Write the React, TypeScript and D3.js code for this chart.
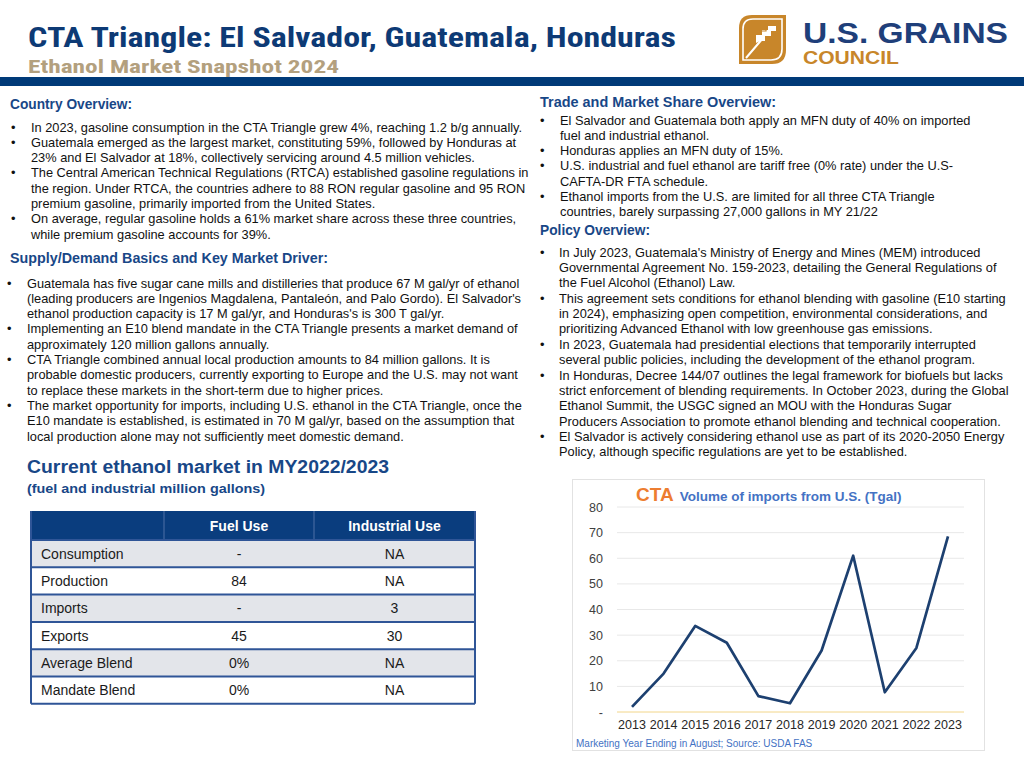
import React from "react";
import * as d3 from "d3";

// ---------- Data ----------
const years = ["2013", "2014", "2015", "2016", "2017", "2018", "2019", "2020", "2021", "2022", "2023"];
const importsTgal = [2, 15, 33.6, 27, 6.2, 3.4, 24, 61, 7.7, 25, 68.5];
const yTicks = [0, 10, 20, 30, 40, 50, 60, 70, 80];

const tableColumns = ["", "Fuel Use", "Industrial Use"];
const tableRowLabels = ["Consumption", "Production", "Imports", "Exports", "Average Blend", "Mandate Blend"];
const fuelUse = ["-", "84", "-", "45", "0%", "0%"];
const industrialUse = ["NA", "NA", "3", "30", "NA", "NA"];

type Line = { t: string; b?: boolean };

const countryOverview: Line[] = [
  { t: "In 2023, gasoline consumption in the CTA Triangle grew 4%, reaching 1.2 b/g annually.", b: true },
  { t: "Guatemala emerged as the largest market, constituting 59%, followed by Honduras at", b: true },
  { t: "23% and El Salvador at 18%, collectively servicing around 4.5 million vehicles." },
  { t: "The Central American Technical Regulations (RTCA) established gasoline regulations in", b: true },
  { t: "the region. Under RTCA, the countries adhere to 88 RON regular gasoline and 95 RON" },
  { t: "premium gasoline, primarily imported from the United States." },
  { t: "On average, regular gasoline holds a 61% market share across these three countries,", b: true },
  { t: "while premium gasoline accounts for 39%." },
];

const supplyDemand: Line[] = [
  { t: "Guatemala has five sugar cane mills and distilleries that produce 67 M gal/yr of ethanol", b: true },
  { t: "(leading producers are Ingenios Magdalena, Pantaleón, and Palo Gordo). El Salvador's" },
  { t: "ethanol production capacity is 17 M gal/yr, and Honduras's is 300 T gal/yr." },
  { t: "Implementing an E10 blend mandate in the CTA Triangle presents a market demand of", b: true },
  { t: "approximately 120 million gallons annually." },
  { t: "CTA Triangle combined annual local production amounts to 84 million gallons. It is", b: true },
  { t: "probable domestic producers, currently exporting to Europe and the U.S. may not want" },
  { t: "to replace these markets in the short-term due to higher prices." },
  { t: "The market opportunity for imports, including U.S. ethanol in the CTA Triangle, once the", b: true },
  { t: "E10 mandate is established, is estimated in 70 M gal/yr, based on the assumption that" },
  { t: "local production alone may not sufficiently meet domestic demand." },
];

const tradeOverview: Line[] = [
  { t: "El Salvador and Guatemala both apply an MFN duty of 40% on imported", b: true },
  { t: "fuel and industrial ethanol." },
  { t: "Honduras applies an MFN duty of 15%.", b: true },
  { t: "U.S. industrial and fuel ethanol are tariff free (0% rate) under the U.S-", b: true },
  { t: "CAFTA-DR FTA schedule." },
  { t: "Ethanol imports from the U.S. are limited for all three CTA Triangle", b: true },
  { t: "countries, barely surpassing 27,000 gallons in MY 21/22" },
];

const policyOverview: Line[] = [
  { t: "In July 2023, Guatemala's Ministry of Energy and Mines (MEM) introduced", b: true },
  { t: "Governmental Agreement No. 159-2023, detailing the General Regulations of" },
  { t: "the Fuel Alcohol (Ethanol) Law." },
  { t: "This agreement sets conditions for ethanol blending with gasoline (E10 starting", b: true },
  { t: "in 2024), emphasizing open competition, environmental considerations, and" },
  { t: "prioritizing Advanced Ethanol with low greenhouse gas emissions." },
  { t: "In 2023, Guatemala had presidential elections that temporarily interrupted", b: true },
  { t: "several public policies, including the development of the ethanol program." },
  { t: "In Honduras, Decree 144/07 outlines the legal framework for biofuels but lacks", b: true },
  { t: "strict enforcement of blending requirements. In October 2023, during the Global" },
  { t: "Ethanol Summit, the USGC signed an MOU with the Honduras Sugar" },
  { t: "Producers Association to promote ethanol blending and technical cooperation." },
  { t: "El Salvador is actively considering ethanol use as part of its 2020-2050 Energy", b: true },
  { t: "Policy, although specific regulations are yet to be established." },
];

// ---------- Styles ----------
const SANS = "'Liberation Sans', Arial, Helvetica, sans-serif";
const NARROW = "'Liberation Sans Narrow', 'Arial Narrow', 'Roboto Condensed', 'Liberation Sans', sans-serif";
const NAVY = "#0d3a75";
const HEAD_BLUE = "#184787";
const TEXT = "#111";
const HEAD_SIZE = 14.1;

function BulletBlock({ lines, y0, dy, bulletX, textX, size = 12.8 }: { lines: Line[]; y0: number; dy: number; bulletX: number; textX: number; size?: number }) {
  return (
    <g fontFamily={SANS} fontSize={size} fill={TEXT}>
      {lines.map((l, i) => (
        <g key={i}>
          {l.b && (
            <text x={bulletX} y={y0 + i * dy + 4.5} fontSize={size}>
              •
            </text>
          )}
          <text x={textX} y={y0 + i * dy + 4.5}>
            {l.t}
          </text>
        </g>
      ))}
    </g>
  );
}

function Logo() {
  return (
    <g>
      <path
        d="M752,15 L786,15 L786,50 Q786,64 772,64 L739,64 L739,28 Q739,15 752,15 Z"
        fill="#c8862a"
      />
      <path
        d="M753,19 L782,19 L782,49 Q782,60 771,60 L743,60 L743,29 Q743,19 753,19 Z"
        fill="none"
        stroke="#fff"
        strokeWidth={1.6}
      />
      <path d="M746,58 Q758,44 763,38" fill="none" stroke="#fff" strokeWidth={2} />
      <path d="M756,43 L756,35 L762,35 L762,30 L768,30 L768,26 L776,26 L776,31 L771,31 L771,36 L765,36 L765,41 L760,41 Z" fill="#fff" />
      <path d="M760,34 L760,31 L766,31 L766,28" fill="none" stroke="#c8862a" strokeWidth={1.2} />
      <text x={803} y={43} fontFamily={SANS} fontWeight={700} fontSize={30} fill="#1f3f7a" textLength={205} lengthAdjust="spacingAndGlyphs">
        U.S. GRAINS
      </text>
      <text x={803} y={64} fontFamily={SANS} fontWeight={700} fontSize={18} fill="#c8862a" textLength={96} lengthAdjust="spacingAndGlyphs">
        COUNCIL
      </text>
    </g>
  );
}

function Table() {
  const x0 = 31;
  const colEdges = [31, 164, 314, 475];
  const headerTop = 511;
  const headerH = 29;
  const rowH = 27.3;
  const rowsTop = headerTop + headerH;
  const rowY = d3.scaleBand<number>().domain(d3.range(tableRowLabels.length)).range([rowsTop, rowsTop + rowH * tableRowLabels.length]);
  const colCenter = (i: number) => (colEdges[i] + colEdges[i + 1]) / 2;
  const bottom = rowsTop + rowH * tableRowLabels.length;
  return (
    <g fontFamily={SANS}>
      <rect x={x0} y={headerTop} width={colEdges[3] - x0} height={headerH} fill="#0a3d7e" />
      {[1, 2].map((i) => (
        <line key={i} x1={colEdges[i]} x2={colEdges[i]} y1={headerTop} y2={headerTop + headerH} stroke="#4e70a6" strokeWidth={1} />
      ))}
      {tableColumns.map((c, i) =>
        c ? (
          <text key={i} x={colCenter(i)} y={headerTop + headerH / 2 + 5} textAnchor="middle" fill="#fff" fontWeight={700} fontSize={14}>
            {c}
          </text>
        ) : null
      )}
      {tableRowLabels.map((r, i) => {
        const y = rowY(i)!;
        return (
          <g key={r}>
            <rect x={x0} y={y} width={colEdges[3] - x0} height={rowH} fill={i % 2 === 0 ? "#e3e5ea" : "#ffffff"} />
            <text x={41} y={y + rowH / 2 + 5} fontSize={14} fill="#1a1a1a">
              {r}
            </text>
            <text x={colCenter(1)} y={y + rowH / 2 + 5} fontSize={14} fill="#1a1a1a" textAnchor="middle">
              {fuelUse[i]}
            </text>
            <text x={colCenter(2)} y={y + rowH / 2 + 5} fontSize={14} fill="#1a1a1a" textAnchor="middle">
              {industrialUse[i]}
            </text>
          </g>
        );
      })}
      {tableRowLabels.map((r, i) => (
        <line key={"l" + i} x1={x0} x2={colEdges[3]} y1={rowY(i)!} y2={rowY(i)!} stroke="#2f5597" strokeWidth={2} />
      ))}
      <line x1={x0} x2={colEdges[3]} y1={bottom} y2={bottom} stroke="#2f5597" strokeWidth={2} />
      <line x1={x0} x2={x0} y1={headerTop} y2={bottom} stroke="#2f5597" strokeWidth={2} />
      <line x1={colEdges[3]} x2={colEdges[3]} y1={headerTop} y2={bottom} stroke="#2f5597" strokeWidth={2} />
    </g>
  );
}

function ImportsChart() {
  const x = d3.scalePoint<string>().domain(years).range([632, 948]);
  const y = d3.scaleLinear().domain([0, 80]).range([712, 507]);
  const line = d3
    .line<number>()
    .x((_, i) => x(years[i])!)
    .y((d) => y(d));
  return (
    <g fontFamily={SANS}>
      <rect x={572.5} y={479.5} width={412} height={271} fill="#fff" stroke="#e2e2e2" strokeWidth={1} />
      <text x={636} y={501} fontWeight={700}>
        <tspan fill="#ed7d31" fontSize={19}>CTA</tspan>
        <tspan fill="#4472c4" fontSize={13.5} dx={6}>Volume of imports from U.S. (Tgal)</tspan>
      </text>
      {yTicks.map((t) => (
        <g key={t}>
          {t > 0 && <line x1={617} x2={964} y1={y(t)} y2={y(t)} stroke="#e8e8e8" strokeWidth={1} />}
          <text x={603} y={y(t) + 4.5} textAnchor="end" fontSize={12.5} fill="#404040">
            {t === 0 ? "-" : t}
          </text>
        </g>
      ))}
      <line x1={617} x2={964} y1={y(0)} y2={y(0)} stroke="#f2d68a" strokeWidth={1} />
      {years.map((yr) => (
        <text key={yr} x={x(yr)} y={729} textAnchor="middle" fontSize={12.5} fill="#262626">
          {yr}
        </text>
      ))}
      <path d={line(importsTgal) || ""} fill="none" stroke="#1d4070" strokeWidth={2.7} strokeLinejoin="round" />
      <text x={576} y={747} fontSize={10} fill="#4472c4">
        Marketing Year Ending in August; Source: USDA FAS
      </text>
    </g>
  );
}

export default function App() {
  return (
    <svg width={1024} height={768} style={{ position: "absolute", left: 0, top: 0, background: "#fff" }}>
      <rect x={0} y={0} width={1024} height={768} fill="#fff" />
      {/* Header */}
      <text x={28} y={47} fontFamily={NARROW} fontWeight={700} fontSize={28} fill={NAVY} textLength={648} lengthAdjust="spacingAndGlyphs">
        CTA Triangle: El Salvador, Guatemala, Honduras
      </text>
      <text x={28} y={73} fontFamily={NARROW} fontWeight={700} fontSize={19} fill="#b3a07e" textLength={311} lengthAdjust="spacingAndGlyphs">
        Ethanol Market Snapshot 2024
      </text>
      <Logo />
      <rect x={0} y={77} width={1024} height={9} fill="#003a78" />

      {/* Left column */}
      <text x={10} y={109} fontFamily={SANS} fontWeight={700} fontSize={HEAD_SIZE} fill={HEAD_BLUE} textLength={122} lengthAdjust="spacingAndGlyphs">
        Country Overview:
      </text>
      <BulletBlock lines={countryOverview} y0={127} dy={15.29} bulletX={11} textX={31} />

      <text x={10} y={263} fontFamily={SANS} fontWeight={700} fontSize={HEAD_SIZE} fill={HEAD_BLUE} textLength={318} lengthAdjust="spacingAndGlyphs">
        Supply/Demand Basics and Key Market Driver:
      </text>
      <BulletBlock lines={supplyDemand} y0={283} dy={15.3} bulletX={7} textX={27} />

      <text x={27} y={473} fontFamily={SANS} fontWeight={700} fontSize={17.5} fill={HEAD_BLUE} textLength={362} lengthAdjust="spacingAndGlyphs">
        Current ethanol market in MY2022/2023
      </text>
      <text x={27} y={493} fontFamily={SANS} fontWeight={700} fontSize={13} fill={HEAD_BLUE} textLength={238} lengthAdjust="spacingAndGlyphs">
        (fuel and industrial million gallons)
      </text>
      <Table />

      {/* Right column */}
      <text x={540} y={107} fontFamily={SANS} fontWeight={700} fontSize={HEAD_SIZE} fill={HEAD_BLUE} textLength={236} lengthAdjust="spacingAndGlyphs">
        Trade and Market Share Overview:
      </text>
      <BulletBlock lines={tradeOverview} y0={120} dy={15.33} bulletX={540} textX={560} />
      <text x={540} y={235} fontFamily={SANS} fontWeight={700} fontSize={HEAD_SIZE} fill={HEAD_BLUE} textLength={110} lengthAdjust="spacingAndGlyphs">
        Policy Overview:
      </text>
      <BulletBlock lines={policyOverview} y0={252} dy={15.38} bulletX={540} textX={559} />

      <ImportsChart />
    </svg>
  );
}
